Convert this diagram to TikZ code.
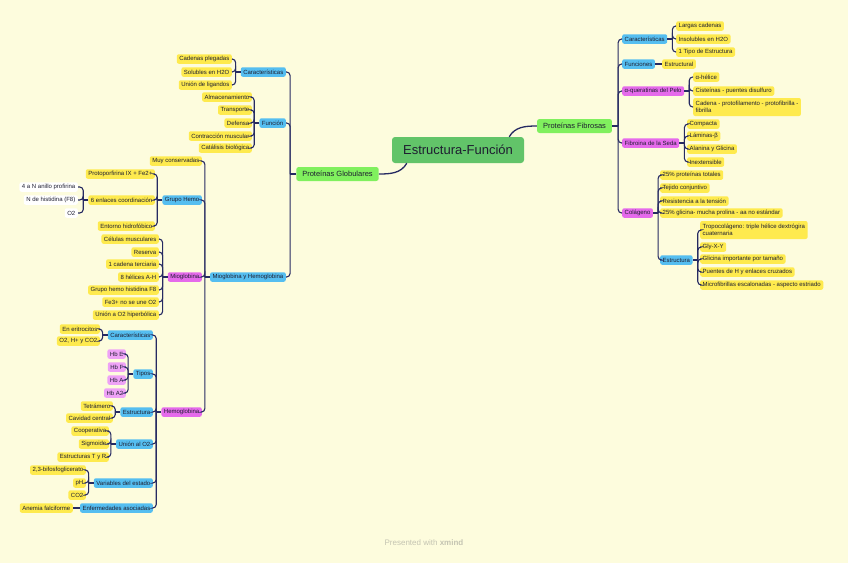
\documentclass[tikz,border=0pt]{standalone}
\usepackage{fontspec}
\setmainfont{Liberation Sans}
\usetikzlibrary{arrows.meta}
\definecolor{paper}{RGB}{253,252,221}
\definecolor{navy}{RGB}{38,42,98}
\definecolor{ink}{RGB}{30,30,48}
\definecolor{rootgreen}{RGB}{98,196,105}
\definecolor{lime}{RGB}{128,240,94}
\definecolor{sky}{RGB}{85,190,240}
\definecolor{orchid}{RGB}{229,106,235}
\definecolor{lilac}{RGB}{238,162,246}
\definecolor{sun}{RGB}{254,234,78}
\definecolor{mist}{RGB}{196,196,178}
\tikzset{
  link/.style={draw=navy,line width=1.1pt,rounded corners=3.5pt},
  root/.style={fill=rootgreen,text=ink,rounded corners=3pt,minimum width=132pt,
    minimum height=26pt,font=\fontsize{13}{15}\selectfont},
  main/.style={fill=lime,text=ink,rounded corners=2.5pt,inner xsep=6pt,
    minimum height=14pt,font=\fontsize{7.5}{9}\selectfont},
  topic/.style={fill=#1,text=ink,rounded corners=2pt,inner xsep=2.5pt,inner ysep=1pt,
    minimum height=9.5pt,align=left,font=\fontsize{6}{7.5}\selectfont},
  topic/.default=sun,
  rt/.style={topic=#1,anchor=west},
  rt/.default=sun,
  lt/.style={topic=#1,anchor=east},
  lt/.default=sun,
}
\begin{document}
\begin{tikzpicture}[x=1pt,y=-1pt]
  \fill[paper] (0,0) rectangle (848,563);
  \useasboundingbox (0,0) rectangle (848,563);

  % centre
  \node[root] (ef) at (458,150) {Estructura-Función};
  \node[main] (pf) at (574.5,126) {Proteínas Fibrosas};
  \node[main] (pg) at (337.5,174) {Proteínas Globulares};
  \draw[link,line width=1.3pt] ([xshift=-15pt]ef.north east) to[out=60,in=180] (pf.west);
  \draw[link,line width=1.3pt] ([xshift=15pt]ef.south west) to[out=-120,in=0] (pg.east);

  % fibrous proteins
  \node[rt=sky] (fcar) at (622,39) {Características};
  \node[rt=sky] (ffun) at (622,64) {Funciones};
  \node[rt=orchid] (fque) at (622,91) {α-queratinas del Pelo};
  \node[rt=orchid] (fsed) at (622,143) {Fibroina de la Seda};
  \node[rt=orchid] (fcol) at (622,213) {Colágeno};
  \draw[link] (pf.east) -- ++(6pt,0);
  \foreach \c in {fcar,ffun,fque,fsed,fcol}
    \draw[link] (\c.west) -| ([xshift=6pt]pf.east);

  \node[rt] (fcar1) at (676,26) {Largas cadenas};
  \node[rt] (fcar2) at (676,39) {Insolubles en H2O};
  \node[rt] (fcar3) at (676,52) {1 Tipo de Estructura};
  \node[rt] (ffun1) at (662,64) {Estructural};
  \node[rt] (fque1) at (693,77) {α-hélice};
  \node[rt] (fque2) at (693,91) {Cisteínas - puentes disulfuro};
  \node[rt,minimum height=18pt] (fque3) at (693,107) {Cadena - protofilamento - protofibrilla -\\fibrilla};
  \node[rt] (fsed1) at (687,124) {Compacta};
  \node[rt] (fsed2) at (687,136) {Láminas-β};
  \node[rt] (fsed3) at (687,149) {Alanina y Glicina};
  \node[rt] (fsed4) at (687,162) {Inextensible};
  \node[rt] (fcol1) at (660,175) {25\% proteínas totales};
  \node[rt] (fcol2) at (660,188) {Tejido conjuntivo};
  \node[rt] (fcol3) at (660,201) {Resistencia a la tensión};
  \node[rt] (fcol4) at (660,213) {25\% glicina- mucha prolina - aa no estándar};
  \node[rt=sky] (fest) at (660,260) {Estructura};
  \node[rt,minimum height=18pt] (fest1) at (700,230) {Tropocolágeno: triple hélice dextrógira\\cuaternaria};
  \node[rt] (fest2) at (700,247) {Gly-X-Y};
  \node[rt] (fest3) at (700,259) {Glicina importante por tamaño};
  \node[rt] (fest4) at (700,272) {Puentes de H y enlaces cruzados};
  \node[rt] (fest5) at (700,285) {Microfibrillas escalonadas - aspecto estriado};

  \draw[link] (ffun.east) -- (ffun1.west);
  \foreach \p/\kids in {fcar/{fcar1,fcar2,fcar3},fque/{fque1,fque2,fque3},
      fsed/{fsed1,fsed2,fsed3,fsed4},fcol/{fcol1,fcol2,fcol3,fcol4,fest},
      fest/{fest1,fest2,fest3,fest4,fest5}}{
    \draw[link] (\p.east) -- ++(5pt,0);
    \foreach \c in \kids
      \draw[link] (\c.west) -| ([xshift=5pt]\p.east);
  }

  % globular proteins
  \node[lt=sky] (gcar) at (286,72) {Características};
  \node[lt=sky] (gfun) at (286,123) {Función};
  \node[lt=sky] (gmh) at (286,277) {Mioglobina y Hemoglobina};
  \draw[link] (pg.west) -- ++(-6pt,0);
  \foreach \c in {gcar,gfun,gmh}
    \draw[link] (\c.east) -| ([xshift=-6pt]pg.west);

  \node[lt] (gcar1) at (232,59) {Cadenas plegadas};
  \node[lt] (gcar2) at (232,72) {Solubles en H2O};
  \node[lt] (gcar3) at (232,85) {Unión de ligandos};
  \node[lt] (gfun1) at (252,97) {Almacenamiento};
  \node[lt] (gfun2) at (252,110) {Transporte};
  \node[lt] (gfun3) at (252,123) {Defensa};
  \node[lt] (gfun4) at (252,136) {Contracción muscular};
  \node[lt] (gfun5) at (252,148) {Catálisis biológica};
  \node[lt] (gmh1) at (202,161) {Muy conservadas};
  \node[lt=sky] (hemo) at (202,200) {Grupo Hemo};
  \node[lt=orchid] (mio) at (202,277) {Mioglobina};
  \node[lt=orchid] (hem) at (202,412) {Hemoglobina};

  \node[lt] (hemo1) at (155,174) {Protoporfirina IX + Fe2+};
  \node[lt] (enl) at (155,200) {6 enlaces coordinación};
  \node[lt] (hemo3) at (155,226) {Entorno hidrofóbico};
  \node[lt=white] (enl1) at (78,187) {4 a N anillo profirina};
  \node[lt=white] (enl2) at (78,200) {N de histidina (F8)};
  \node[lt=white] (enl3) at (78,213) {O2};

  \node[lt] (mio1) at (159,239) {Células musculares};
  \node[lt] (mio2) at (159,252) {Reserva};
  \node[lt] (mio3) at (159,264) {1 cadena terciaria};
  \node[lt] (mio4) at (159,277) {8 hélices A-H};
  \node[lt] (mio5) at (159,290) {Grupo hemo histidina F8};
  \node[lt] (mio6) at (159,302) {Fe3+ no se une O2};
  \node[lt] (mio7) at (159,315) {Unión a O2 hiperbólica};

  \node[lt=sky] (hcar) at (153,335) {Características};
  \node[lt=sky] (htip) at (153,374) {Tipos};
  \node[lt=sky] (hest) at (153,412) {Estructura};
  \node[lt=sky] (huni) at (153,444) {Unión al O2};
  \node[lt=sky] (hvar) at (153,483) {Variables del estado};
  \node[lt=sky] (henf) at (153,508) {Enfermedades asociadas};

  \node[lt] (hcar1) at (100,329) {En eritrocitos};
  \node[lt] (hcar2) at (100,341) {O2, H+ y CO2};
  \node[lt=lilac] (htip1) at (126,354) {Hb E};
  \node[lt=lilac] (htip2) at (126,367) {Hb F};
  \node[lt=lilac] (htip3) at (126,380) {Hb A};
  \node[lt=lilac] (htip4) at (126,393) {Hb A2};
  \node[lt] (hest1) at (113,406) {Tetrámero};
  \node[lt] (hest2) at (113,418) {Cavidad central};
  \node[lt] (huni1) at (109,431) {Cooperativa};
  \node[lt] (huni2) at (109,444) {Sigmoide};
  \node[lt] (huni3) at (109,457) {Estructuras T y R};
  \node[lt] (hvar1) at (86,470) {2,3-bifosfoglicerato};
  \node[lt] (hvar2) at (86,483) {pH};
  \node[lt] (hvar3) at (86,495) {CO2};
  \node[lt] (henf1) at (73,508) {Anemia falciforme};

  \draw[link] (henf.west) -- (henf1.east);
  \foreach \p/\kids in {gcar/{gcar1,gcar2,gcar3},gfun/{gfun1,gfun2,gfun3,gfun4,gfun5},
      gmh/{gmh1,hemo,mio,hem},hemo/{hemo1,enl,hemo3},enl/{enl1,enl2,enl3},
      mio/{mio1,mio2,mio3,mio4,mio5,mio6,mio7},hem/{hcar,htip,hest,huni,hvar,henf},
      hcar/{hcar1,hcar2},htip/{htip1,htip2,htip3,htip4},hest/{hest1,hest2},
      huni/{huni1,huni2,huni3},hvar/{hvar1,hvar2,hvar3}}{
    \draw[link] (\p.west) -- ++(-5pt,0);
    \foreach \c in \kids
      \draw[link] (\c.east) -| ([xshift=-5pt]\p.west);
  }

  \node[text=mist,font=\fontsize{8}{10}\selectfont] (credit) at (424,543) {Presented with \textbf{xmind}};
\end{tikzpicture}
\end{document}
